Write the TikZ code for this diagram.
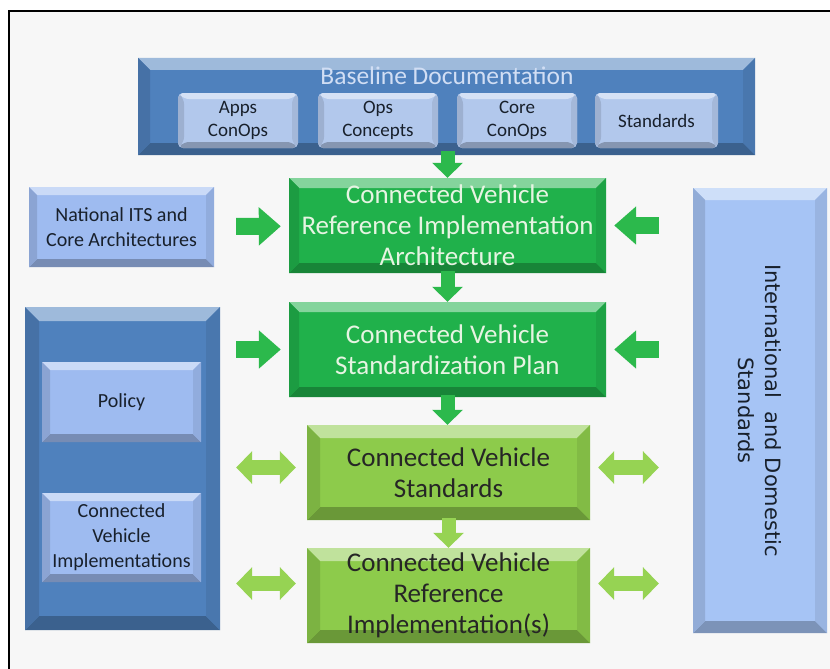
\documentclass[tikz,border=0pt]{standalone}
\usepackage{fontspec}
\setmainfont{Carlito}
\newfontfamily\verdfont{DejaVu Sans}
\usetikzlibrary{arrows.meta}

\definecolor{baseblue}{HTML}{4F81BD}
\definecolor{subblue}{HTML}{B2C8EC}
\definecolor{paleblue}{HTML}{9EBBF0}
\definecolor{sideblue}{HTML}{A6C4F5}
\definecolor{cvgreen}{HTML}{20B14B}
\definecolor{cvlime}{HTML}{8DCB4B}
\definecolor{arrgreen}{HTML}{2CB94C}
\definecolor{arrlime}{HTML}{96D353}
\definecolor{inkdark}{HTML}{18202B}
\definecolor{inklight}{HTML}{E6F4E2}

\def\ppb{path picture bounding box}

\tikzset{
  bevel/.style 2 args={fill=#1, path picture={
      \fill[#1!55!white] (\ppb.north west) -- (\ppb.north east)
        -- ([shift={(-#2pt,-#2pt)}]\ppb.north east) -- ([shift={(#2pt,-#2pt)}]\ppb.north west) -- cycle;
      \fill[#1!75!black] (\ppb.south west) -- (\ppb.south east)
        -- ([shift={(-#2pt,#2pt)}]\ppb.south east) -- ([shift={(#2pt,#2pt)}]\ppb.south west) -- cycle;
      \fill[#1!88!black] (\ppb.north west) -- ([shift={(#2pt,-#2pt)}]\ppb.north west)
        -- ([shift={(#2pt,#2pt)}]\ppb.south west) -- (\ppb.south west) -- cycle;
      \fill[#1!92!black] (\ppb.north east) -- ([shift={(-#2pt,-#2pt)}]\ppb.north east)
        -- ([shift={(-#2pt,#2pt)}]\ppb.south east) -- (\ppb.south east) -- cycle;
  }},
  box/.style={inner sep=0pt, align=center},
  subtext/.style={text=inkdark, font=\fontsize{19}{22.5}\selectfont},
  sidetext/.style={text=inkdark, font=\fontsize{20}{25}\selectfont},
  bigtext/.style={font=\fontsize{27}{31}\selectfont},
  feedarrow/.style={draw=arrgreen, line width=17pt, -{Triangle[width=37pt,length=22pt]}},
  twoarrow/.style={draw=arrlime, line width=15pt,
    {Triangle[width=32pt,length=16pt]}-{Triangle[width=32pt,length=16pt]}},
  downarrow/.style={draw=#1, line width=14pt, -{Triangle[width=30pt,length=15pt]}},
}

\begin{document}
\begin{tikzpicture}[x=1pt,y=-1pt]
\useasboundingbox (0,0) rectangle (830,669);
\fill[white] (0,0) rectangle (830,669);
\fill[gray!6] (9,11) rectangle (830,669);
\draw[line width=2.5pt] (9,669) -- (9,11) -- (830,11);

% baseline documentation
\node[box, bevel={baseblue}{12}, minimum width=617pt, minimum height=97pt] (base) at (446.5,106.5) {};
\node[text=subblue!60!white, font=\fontsize{25.5}{30}\selectfont] (basetitle) at (447,76) {Baseline Documentation};
\node[box, bevel={subblue}{6}, rounded corners=5pt, subtext, minimum width=120pt, minimum height=55pt] (apps) at (238,120.5) {Apps\\ConOps};
\node[box, bevel={subblue}{6}, rounded corners=5pt, subtext, minimum width=120pt, minimum height=55pt] (opsc) at (378,120.5) {Ops\\Concepts};
\node[box, bevel={subblue}{6}, rounded corners=5pt, subtext, minimum width=120pt, minimum height=55pt] (core) at (517,120.5) {Core\\ConOps};
\node[box, bevel={subblue}{6}, rounded corners=5pt, subtext, minimum width=123pt, minimum height=55pt] (stds) at (656.5,120.5) {Standards};

% left side
\node[box, bevel={paleblue}{8}, sidetext, minimum width=185pt, minimum height=80pt] (natits) at (121.5,227) {National ITS and\\Core Architectures};
\node[box, bevel={baseblue}{14}, minimum width=195pt, minimum height=323pt] (leftgrp) at (122.5,468.5) {};
\node[box, bevel={paleblue}{8}, sidetext, minimum width=159pt, minimum height=80pt] (policy) at (121.5,402) {Policy};
\node[box, bevel={paleblue}{8}, sidetext, minimum width=159pt, minimum height=89pt] (cvimpl) at (121.5,537.5) {Connected\\Vehicle\\Implementations};

% right side
\node[box, bevel={sideblue}{12}, minimum width=134pt, minimum height=445pt] (intl) at (760,410.5) {};
\node[text=inkdark, rotate=-90, align=center, font=\verdfont\fontsize{21}{26.5}\selectfont] (intltext) at (intl) {International\ \ and Domestic\\Standards};

% centre column
\node[box, bevel={cvgreen}{10}, bigtext, text=inklight, minimum width=317pt, minimum height=95pt] (cvria) at (447.5,225.5) {Connected Vehicle\\Reference Implementation\\Architecture};
\node[box, bevel={cvgreen}{10}, bigtext, text=inklight, minimum width=317pt, minimum height=95pt] (cvsp) at (447.5,349.5) {Connected Vehicle\\Standardization Plan};
\node[box, bevel={cvlime}{13}, bigtext, text=black!85, minimum width=283pt, minimum height=95pt] (cvstd) at (448.5,472.5) {Connected Vehicle\\Standards};
\node[box, bevel={cvlime}{13}, bigtext, text=black!85, minimum width=283pt, minimum height=95pt] (cvref) at (448.5,595.5) {Connected Vehicle\\Reference\\Implementation(s)};

% arrows
\draw[downarrow=arrgreen, shorten <=-4pt] (cvria.north |- base.south) -- (cvria.north);
\draw[downarrow=arrgreen, shorten <=-2pt] (cvria.south) -- (cvsp.north);
\draw[downarrow=arrgreen, shorten <=-2pt] (cvsp.south) -- (cvsp.south |- cvstd.north);
\draw[downarrow=arrlime, shorten <=-2pt] (cvstd.south) -- (cvref.north);

\draw[feedarrow, shorten <=22pt, shorten >=8pt] (natits) -- (cvria);
\draw[feedarrow, shorten <=34pt, shorten >=8pt] (intl.west |- cvria) -- (cvria);
\draw[feedarrow, shorten <=16pt, shorten >=8pt] (leftgrp.east |- cvsp) -- (cvsp);
\draw[feedarrow, shorten <=34pt, shorten >=8pt] (intl.west |- cvsp) -- (cvsp);

\draw[twoarrow, shorten <=16pt, shorten >=11pt] ([yshift=5pt]leftgrp.east |- cvstd) -- ([yshift=5pt]cvstd.west);
\draw[twoarrow, shorten <=8pt, shorten >=34pt] ([yshift=5pt]cvstd.east) -- ([yshift=5pt]intl.west |- cvstd);
\draw[twoarrow, shorten <=16pt, shorten >=11pt] ([yshift=12pt]leftgrp.east |- cvref) -- ([yshift=12pt]cvref.west);
\draw[twoarrow, shorten <=8pt, shorten >=34pt] ([yshift=12pt]cvref.east) -- ([yshift=12pt]intl.west |- cvref);
\end{tikzpicture}
\end{document}
